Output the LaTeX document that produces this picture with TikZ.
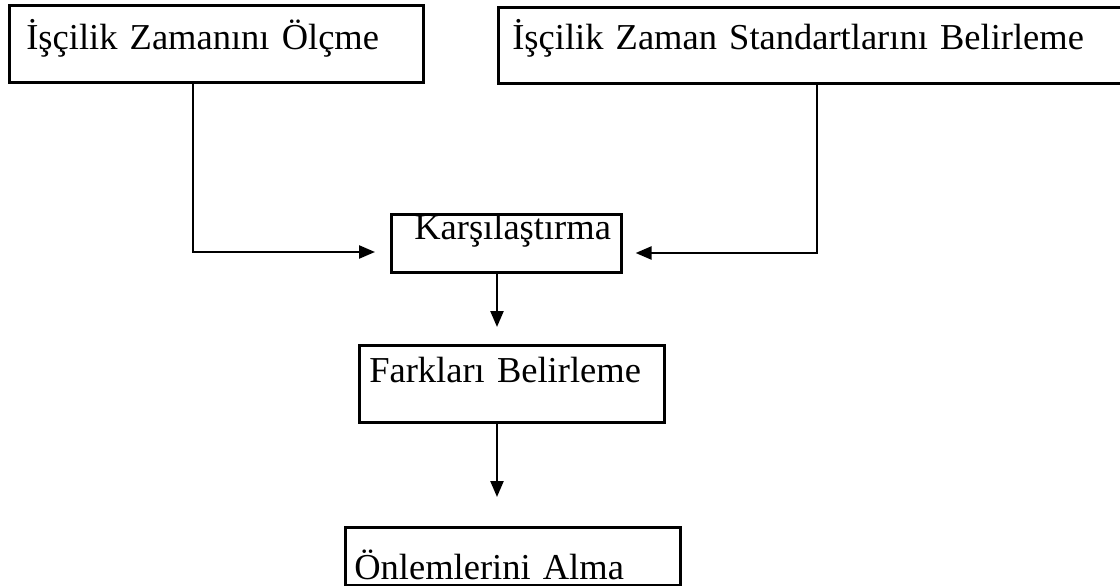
\documentclass[tikz,border=0pt]{standalone}
\usepackage{fontspec}
\setmainfont{Liberation Serif}
\usetikzlibrary{arrows.meta}
\tikzset{
  box/.style={draw=black, line width=2.6pt, anchor=north west, inner xsep=0pt, inner ysep=0pt,
    align=left, font=\fontsize{36.5}{40}\selectfont},
  arr/.style={line width=2.4pt, -{Triangle[length=16pt,width=13pt]}},
}
\begin{document}
\begin{tikzpicture}[x=1pt,y=-1pt]
\useasboundingbox (0,0) rectangle (1120,586);
\node[box, text width=414pt, text height=44pt, text depth=33pt] (b1) at (8,4) {\hspace*{17pt}İşçilik Zamanını Ölçme};
\node[box, text width=628pt, text height=42pt, text depth=34pt] (b2) at (497,6) {\hspace*{14pt}İşçilik Zaman Standartlarını Belirleme};
\node[box, text width=230pt, text height=25pt, text depth=33pt] (kars) at (390,213) {\hspace*{23pt}Karşılaştırma};
\node[box, text width=305pt, text height=37pt, text depth=40pt] (fark) at (358,344) {\hspace*{10pt}Farkları Belirleme};
\node[box, text width=335pt, text height=52pt, text depth=6pt] (onlem) at (344,526) {\hspace*{9pt}Önlemlerini Alma};
\coordinate (cl) at (193,252);
\coordinate (cr) at (817,253);
\coordinate (cm) at (497,0);
\draw[arr, shorten >=15pt] (b1.south -| cl) |- (kars.west |- cl);
\draw[arr, shorten >=13pt] (b2.south -| cr) |- (kars.east |- cr);
\draw[arr, shorten >=17pt] (kars.south -| cm) -- (fark.north -| cm);
\draw[arr, shorten >=29pt] (fark.south -| cm) -- (onlem.north -| cm);
\end{tikzpicture}
\end{document}
